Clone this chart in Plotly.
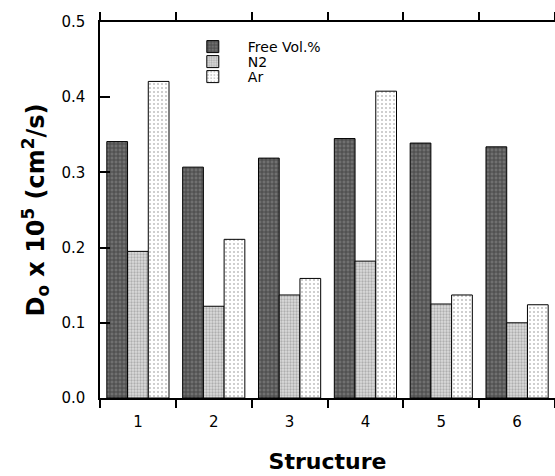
import plotly.graph_objects as go

categories = ["1", "2", "3", "4", "5", "6"]
free_vol = [0.341, 0.307, 0.319, 0.345, 0.339, 0.334]
n2 = [0.195, 0.122, 0.137, 0.182, 0.125, 0.100]
ar = [0.421, 0.211, 0.159, 0.408, 0.137, 0.124]
y_ticks = [0.0, 0.1, 0.2, 0.3, 0.4, 0.5]

FONT = "DejaVu Sans, Arial, sans-serif"

fig = go.Figure()
fig.add_trace(go.Bar(
    x=categories, y=free_vol, name="Free Vol.%", legend="legend",
    marker=dict(color="#666666", line=dict(color="black", width=1),
                pattern=dict(shape="+", bgcolor="#707070", fgcolor="#222222",
                             size=4, solidity=0.45)),
))
fig.add_trace(go.Bar(
    x=categories, y=n2, name="N2", legend="legend2",
    marker=dict(color="#cccccc", line=dict(color="black", width=1),
                pattern=dict(shape=".", bgcolor="#dcdcdc", fgcolor="#808080",
                             size=3, solidity=0.45)),
))
fig.add_trace(go.Bar(
    x=categories, y=ar, name="Ar", legend="legend3",
    marker=dict(color="white", line=dict(color="black", width=1),
                pattern=dict(shape=".", bgcolor="white", fgcolor="#808080",
                             size=4, solidity=0.2)),
))

leg_common = dict(x=0.171, xanchor="left", yanchor="middle",
                  bgcolor="rgba(0,0,0,0)", font=dict(size=14),
                  itemwidth=60)

fig.update_layout(
    width=555, height=476,
    margin=dict(l=100, r=0, t=22, b=78),
    paper_bgcolor="white", plot_bgcolor="white",
    barmode="group", bargap=0.18, bargroupgap=0,
    font=dict(family=FONT, size=15, color="black"),
    showlegend=True,
    legend=dict(y=0.9335, **leg_common),
    legend2=dict(y=0.8936, **leg_common),
    legend3=dict(y=0.8537, **leg_common),
    xaxis=dict(
        type="category", range=[-0.5, 5.5],
        showline=True, linecolor="black", linewidth=1.5,
        mirror="ticks", ticks="outside", ticklen=8, tickwidth=1.5,
        tickcolor="black", tickson="boundaries", showgrid=False,
        tickfont=dict(size=15), ticklabelstandoff=9,
        title=dict(text="<b>Structure</b>", font=dict(size=22), standoff=24),
    ),
    yaxis=dict(
        range=[0, 0.5], tickvals=y_ticks, tickformat=".1f",
        showline=True, linecolor="black", linewidth=1.5,
        ticks="inside", ticklen=10, tickwidth=1.5, tickcolor="black",
        showgrid=False, zeroline=False, tickfont=dict(size=15),
        ticklabelstandoff=10,
        title=dict(text="<b>D<sub>o</sub> x 10<sup>5</sup> (cm<sup>2</sup>/s)</b>",
                   font=dict(size=24), standoff=10),
    ),
    yaxis2=dict(
        overlaying="y", side="right", range=[0, 0.5], tickvals=y_ticks,
        showline=False, ticks="inside", ticklen=4, tickwidth=2,
        tickcolor="black", showticklabels=False, showgrid=False,
        zeroline=False,
    ),
)

fig.write_html("out.html")
